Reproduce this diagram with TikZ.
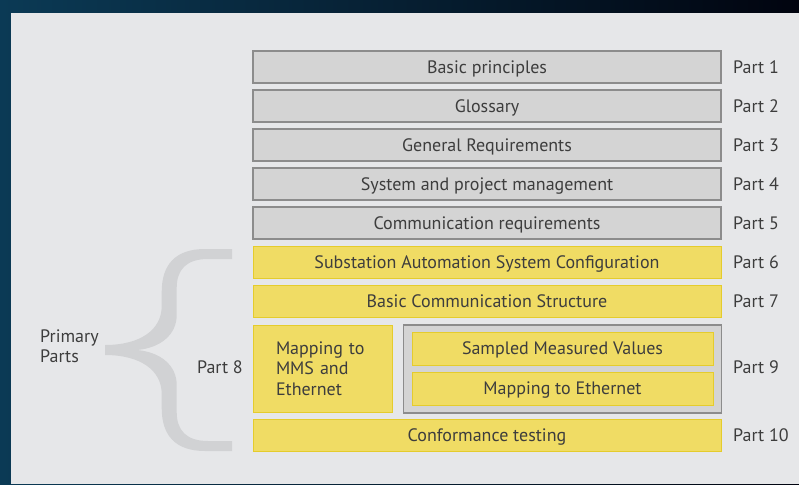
\documentclass[tikz,border=0pt]{standalone}
\usepackage{fontspec}
\setmainfont{PT Sans}
\begin{document}
\begin{tikzpicture}[x=1pt,y=-1pt,
  txt/.style={text=black!76, font=\fontsize{18}{20.5}\selectfont},
  oneline/.style={text height=12.6pt, text depth=0pt},
  greybox/.style={txt, oneline, draw=black!45, line width=1.3pt, fill=black!17, minimum width=468pt, minimum height=32pt, inner sep=0pt},
  yellowbox/.style={txt, oneline, draw=yellowedge, line width=1pt, fill=yellowfill, minimum width=468pt, minimum height=32pt, inner sep=0pt},
  partlabel/.style={txt, oneline, anchor=west, inner sep=0pt},
  bracefill/.style={fill=bracegrey}
]
\definecolor{yellowfill}{HTML}{F0DC64}
\definecolor{yellowedge}{HTML}{E5CC2C}
\definecolor{panel}{HTML}{E6E7E9}
\definecolor{bracegrey}{HTML}{D1D2D4}
\definecolor{deepblue}{HTML}{0B3A55}
\definecolor{nightblue}{HTML}{01040F}

% backdrop and panel
\useasboundingbox (0,0) rectangle (799,484);
\shade[left color=deepblue, right color=nightblue] (0,0) rectangle (799,484);
\fill[panel] (11,13) rectangle (799,484);

% stacked parts
\node[greybox] (p1) at (487,67) {Basic principles};
\node[greybox] (p2) at (487,106) {Glossary};
\node[greybox] (p3) at (487,145) {General Requirements};
\node[greybox] (p4) at (487,184) {System and project management};
\node[greybox] (p5) at (487,223) {Communication requirements};
\node[yellowbox] (p6) at (487,262.5) {Substation Automation System Configuration};
\node[yellowbox] (p7) at (487,301.5) {Basic Communication Structure};
\node[yellowbox, text height=, text depth=, minimum width=139pt, minimum height=87pt, align=left, text width=93pt] (p8) at (322.5,368.5) {Mapping to\\MMS and\\Ethernet};
\node[greybox, minimum width=318pt, minimum height=88pt] (p9) at (562.5,369) {};
\node[yellowbox, minimum width=301pt, minimum height=33pt] (p9a) at (562.5,348.5) {Sampled Measured Values};
\node[yellowbox, minimum width=301pt, minimum height=33pt] (p9b) at (562.5,388.5) {Mapping to Ethernet};
\node[yellowbox] (p10) at (487,435) {Conformance testing};

% part numbers
\node[partlabel] (l1) at (733,67) {Part 1};
\node[partlabel] (l2) at (733,106) {Part 2};
\node[partlabel] (l3) at (733,145) {Part 3};
\node[partlabel] (l4) at (733,184) {Part 4};
\node[partlabel] (l5) at (733,223) {Part 5};
\node[partlabel] (l6) at (733,262.5) {Part 6};
\node[partlabel] (l7) at (733,301.5) {Part 7};
\node[partlabel] (l9) at (733,367) {Part 9};
\node[partlabel] (l10) at (733,435) {Part 10};
\node[txt, oneline, anchor=east, inner sep=0pt] (l8) at (243,367) {Part 8};

% curly brace grouping the primary parts (filled outline, thicker in the middle)
\fill[bracefill]
  (232,249) -- (205,249)
  .. controls (175,249) and (161.7,265) .. (161.7,292)
  -- (161.7,306)
  .. controls (161.7,330) and (140,345) .. (105,345)
  -- (105,355)
  .. controls (140,355) and (161.7,370) .. (161.7,394)
  -- (161.7,408)
  .. controls (161.7,435) and (175,451) .. (205,451)
  -- (232,451) -- (232,441) -- (208,441)
  .. controls (186,441) and (176.7,430) .. (176.7,412)
  -- (176.7,385)
  .. controls (176.7,365) and (160,352) .. (137,350)
  .. controls (160,348) and (176.7,335) .. (176.7,315)
  -- (176.7,288)
  .. controls (176.7,270) and (186,259) .. (208,259)
  -- (232,259) -- cycle;

\node[txt, anchor=west, align=left, inner sep=0pt] (prim) at (40,346) {Primary\\Parts};
\end{tikzpicture}
\end{document}
